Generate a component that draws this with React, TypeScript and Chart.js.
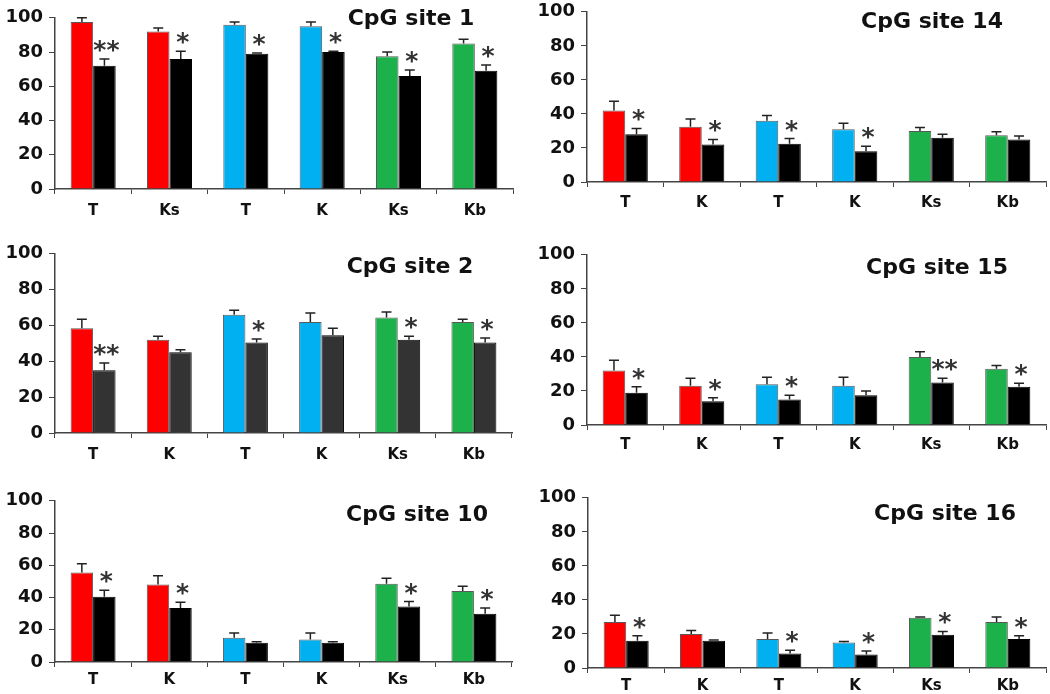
import React, { useEffect, useRef } from "react";
import { Chart, registerables } from "chart.js";

Chart.register(...registerables);

// ---------- data ----------
const labelsSite1 = ["T", "Ks", "T", "K", "Ks", "Kb"];
const labelsOther = ["T", "K", "T", "K", "Ks", "Kb"];

const site1Control = [97.5, 92, 96, 95, 77.5, 85];
const site1ControlErr = [2.5, 2, 1.5, 2.5, 2.5, 2.5];
const site1Treated = [72, 76, 79, 80, 66, 69];
const site1TreatedErr = [4, 4.5, 0.5, 0.5, 3.5, 3.5];
const site1Sig = ["**", "*", "*", "*", "*", "*"];

const site14Control = [42, 32.5, 36, 31, 30, 27.5];
const site14ControlErr = [5.5, 4.5, 3, 3.5, 2, 2];
const site14Treated = [28, 22, 22.5, 18, 26, 25];
const site14TreatedErr = [3.5, 3, 3, 3, 2, 2];
const site14Sig = ["*", "*", "*", "*", "", ""];

const site2Control = [58.5, 52, 66, 62, 64.5, 62];
const site2ControlErr = [5, 2, 2.5, 5, 3, 1.5];
const site2Treated = [35, 45, 50.5, 54.5, 52, 50.5];
const site2TreatedErr = [4, 1.5, 2, 4, 2, 2.5];
const site2Sig = ["**", "", "*", "", "*", "*"];

const site15Control = [32, 23, 24, 23, 40, 33];
const site15ControlErr = [6, 4.5, 4, 5, 3, 2];
const site15Treated = [19, 14, 15, 17.5, 25, 22.5];
const site15TreatedErr = [3.5, 2, 2.5, 2.5, 2.5, 2];
const site15Sig = ["*", "*", "*", "", "**", "*"];

const site10Control = [55.5, 48, 15, 14, 48.5, 44];
const site10ControlErr = [5.5, 5.5, 3, 4, 3.5, 3];
const site10Treated = [40.5, 33.5, 12, 12, 34.5, 30];
const site10TreatedErr = [4, 3.5, 0.5, 0.5, 3, 3.5];
const site10Sig = ["*", "*", "", "", "*", "*"];

const site16Control = [27, 20, 17, 15, 29.5, 27];
const site16ControlErr = [4, 2, 3.5, 0.5, 0.5, 3];
const site16Treated = [16, 16, 8.5, 8, 19.5, 17];
const site16TreatedErr = [3, 0.5, 2, 2, 2, 2];
const site16Sig = ["*", "", "*", "*", "*", "*"];

const yTicks = [0, 20, 40, 60, 80, 100];

// ---------- styles ----------
const groupColors = ["#FF0000", "#FF0000", "#00B0F0", "#00B0F0", "#1DB14B", "#1DB14B"];
const FONT = "'DejaVu Sans', sans-serif";
const Y_W = 55;
const PAD_T = 14;
const PAD_R = 4;
const X_H = 32;

const panels = [
  { title: "CpG site 1", labels: labelsSite1, control: site1Control, controlErr: site1ControlErr, treated: site1Treated, treatedErr: site1TreatedErr, sig: site1Sig, dark: "#000000" },
  { title: "CpG site 14", labels: labelsOther, control: site14Control, controlErr: site14ControlErr, treated: site14Treated, treatedErr: site14TreatedErr, sig: site14Sig, dark: "#000000" },
  { title: "CpG site 2", labels: labelsOther, control: site2Control, controlErr: site2ControlErr, treated: site2Treated, treatedErr: site2TreatedErr, sig: site2Sig, dark: "#333333" },
  { title: "CpG site 15", labels: labelsOther, control: site15Control, controlErr: site15ControlErr, treated: site15Treated, treatedErr: site15TreatedErr, sig: site15Sig, dark: "#000000" },
  { title: "CpG site 10", labels: labelsOther, control: site10Control, controlErr: site10ControlErr, treated: site10Treated, treatedErr: site10TreatedErr, sig: site10Sig, dark: "#000000" },
  { title: "CpG site 16", labels: labelsOther, control: site16Control, controlErr: site16ControlErr, treated: site16Treated, treatedErr: site16TreatedErr, sig: site16Sig, dark: "#000000" },
];

// plot-area rectangles (page px), title offsets, x-label padding
const layouts = [
  { x0: 55, x1: 513, y100: 15, y0: 189, tx: 356, ty: -1, lp: 8 },
  { x0: 587, x1: 1046, y100: 9, y0: 182, tx: 345, ty: 8, lp: 7 },
  { x0: 55, x1: 512, y100: 251, y0: 433, tx: 355, ty: 11, lp: 8 },
  { x0: 587, x1: 1046, y100: 252, y0: 425, tx: 350, ty: 11, lp: 6 },
  { x0: 55, x1: 512, y100: 498, y0: 662, tx: 362, ty: 12, lp: 4 },
  { x0: 588, x1: 1046, y100: 495, y0: 668, tx: 357, ty: 14, lp: 4 },
];

type P = (typeof panels)[number];
type L = (typeof layouts)[number];

function Panel({ p, lay }: { p: P; lay: L }) {
  const ref = useRef<HTMLCanvasElement>(null);
  const left = lay.x0 - Y_W;
  const top = lay.y100 - PAD_T;
  const w = lay.x1 - lay.x0 + Y_W + PAD_R;
  const h = lay.y0 - lay.y100 + PAD_T + X_H;

  useEffect(() => {
    if (!ref.current) return;
    const overlay = {
      id: "overlay",
      afterDatasetsDraw(chart: any) {
        const ctx = chart.ctx as CanvasRenderingContext2D;
        const ys = chart.scales.y;
        const errs = [p.controlErr, p.treatedErr];
        [0, 1].forEach((di) => {
          const meta = chart.getDatasetMeta(di);
          meta.data.forEach((bar: any, i: number) => {
            const v = chart.data.datasets[di].data[i] as number;
            const yTop = ys.getPixelForValue(v + errs[di][i]);
            ctx.save();
            ctx.strokeStyle = "#222";
            ctx.lineWidth = 1.5;
            ctx.beginPath();
            ctx.moveTo(bar.x, bar.y);
            ctx.lineTo(bar.x, yTop);
            ctx.moveTo(bar.x - 5, yTop);
            ctx.lineTo(bar.x + 5, yTop);
            ctx.stroke();
            if (di === 1 && p.sig[i]) {
              ctx.fillStyle = "#333";
              ctx.font = `bold 25px ${FONT}`;
              ctx.textAlign = "center";
              ctx.textBaseline = "alphabetic";
              ctx.fillText(p.sig[i], bar.x + 2, yTop - 1);
            }
            ctx.restore();
          });
        });
        const a = chart.chartArea;
        ctx.save();
        ctx.fillStyle = "#111";
        ctx.font = `bold 22px ${FONT}`;
        ctx.textAlign = "center";
        ctx.textBaseline = "alphabetic";
        ctx.fillText(p.title, a.left + lay.tx, a.top + lay.ty + 8);
        ctx.restore();
      },
    };

    const chart = new Chart(ref.current, {
      type: "bar",
      data: {
        labels: p.labels,
        datasets: [
          {
            data: p.control,
            backgroundColor: groupColors,
            borderColor: "rgba(0,0,0,0.65)",
            borderWidth: 1,
            categoryPercentage: 0.59,
            barPercentage: 1,
          },
          {
            data: p.treated,
            backgroundColor: p.dark,
            borderColor: "#000",
            borderWidth: 1,
            categoryPercentage: 0.59,
            barPercentage: 1,
          },
        ],
      },
      options: {
        responsive: false,
        animation: false,
        devicePixelRatio: 1,
        layout: { padding: { top: PAD_T, right: PAD_R, left: 0, bottom: 0 } },
        plugins: { legend: { display: false }, tooltip: { enabled: false }, title: { display: false } },
        scales: {
          x: {
            offset: true,
            grid: { display: true, drawOnChartArea: false, drawTicks: true, tickLength: 5, color: "#444", offset: true },
            border: { display: true, color: "#444", width: 1.5 },
            ticks: { color: "#111", font: { family: FONT, size: 15, weight: "bold" }, padding: lay.lp, maxRotation: 0 },
            afterFit: (s: any) => {
              s.height = X_H;
            },
          },
          y: {
            min: 0,
            max: 100,
            afterBuildTicks: (s: any) => {
              s.ticks = yTicks.map((v) => ({ value: v }));
            },
            grid: { display: true, drawOnChartArea: false, drawTicks: true, tickLength: 6, color: "#444" },
            border: { display: true, color: "#444", width: 1.5 },
            ticks: { color: "#111", font: { family: FONT, size: 18, weight: "bold" }, padding: 6 },
            afterFit: (s: any) => {
              s.width = Y_W;
            },
          },
        },
      },
      plugins: [overlay],
    });
    return () => chart.destroy();
  }, []);

  return (
    <canvas
      ref={ref}
      width={w}
      height={h}
      style={{ position: "absolute", left, top, width: w, height: h }}
    />
  );
}

export default function App() {
  return (
    <div style={{ position: "absolute", left: 0, top: 0, width: 1050, height: 694, background: "#fff", overflow: "hidden" }}>
      {panels.map((p, i) => (
        <Panel key={i} p={p} lay={layouts[i]} />
      ))}
    </div>
  );
}
